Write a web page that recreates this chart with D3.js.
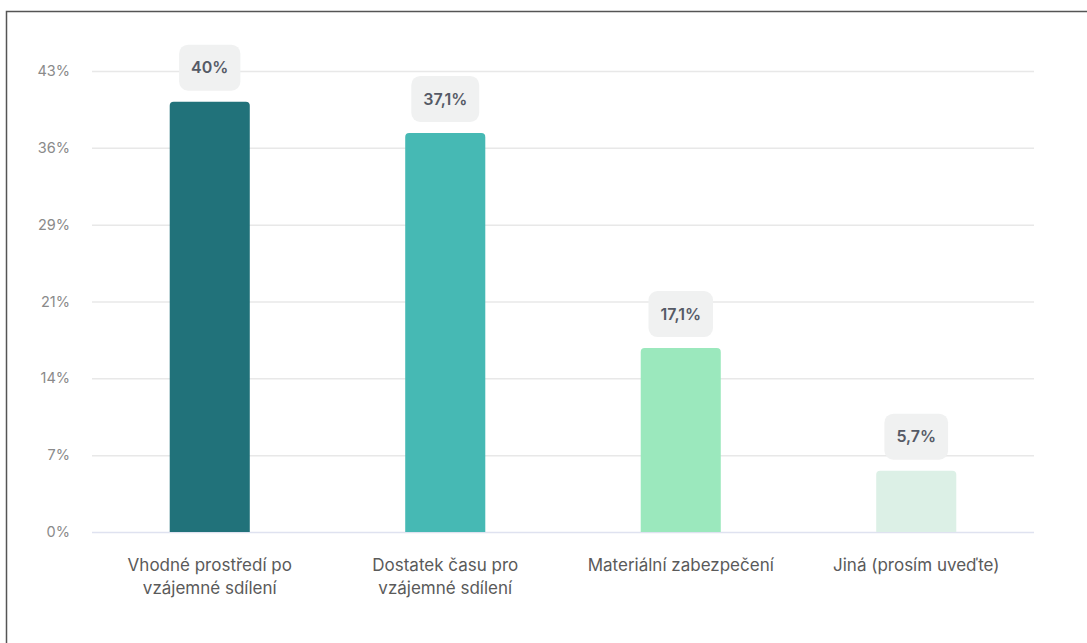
<!DOCTYPE html>
<html><head><meta charset="utf-8">
<script src="https://cdn.jsdelivr.net/npm/d3@7"></script>
<style>html,body{margin:0;padding:0;background:#fff;}svg{display:block;font-family:Inter,"Noto Sans",sans-serif;}</style>
</head><body>
<svg id="c" width="1087" height="643"></svg>
<script>
const categories = [["Vhodné prostředí po","vzájemné sdílení"],["Dostatek času pro","vzájemné sdílení"],["Materiální zabezpečení"],["Jiná (prosím uveďte)"]];
const values = [40, 37.1, 17.1, 5.7];
const valueLabels = ["40%","37,1%","17,1%","5,7%"];
const colors = ["#21727a","#46b9b4","#9be8bd","#dcf0e6"];
const tickValues = [0,1,2,3,4,5,6].map(i => i*50/7);

const svg = d3.select("#c");
svg.append("rect").attr("x",6.5).attr("y",11.5).attr("width",1200).attr("height",800)
  .attr("fill","none").attr("stroke","#555").attr("stroke-width",1.5);

const pLeft=92, pRight=1034, pTop=71, pBottom=532;
const x = d3.scaleBand().domain(d3.range(values.length)).range([pLeft,pRight]).paddingInner(0.66).paddingOuter(0.33);
const y = d3.scaleLinear().domain([0,300/7]).range([pBottom,pTop]);

const yAxis = d3.axisLeft(y).tickValues(tickValues).tickFormat(d=>Math.round(d)+"%").tickSize(-(pRight-pLeft)).tickPadding(22);
const ga = svg.append("g").attr("transform",`translate(${pLeft},0)`).call(yAxis);
ga.select(".domain").remove();
ga.selectAll(".tick line").attr("stroke",d=>d===0?"#dfe2f0":"#e8e8e8").attr("stroke-width",1.5);
ga.selectAll(".tick text").attr("fill","#8a8a8a").attr("font-size",14.5).attr("font-family","Inter");

const bw = x.bandwidth(), r = 4;
svg.selectAll(".bar").data(values).join("path").attr("fill",(d,i)=>colors[i])
  .attr("d",(d,i)=>{
    const x0=x(i), x1=x0+bw, y0=y(d), y1=y(0);
    return `M${x0},${y1}V${y0+r}Q${x0},${y0} ${x0+r},${y0}H${x1-r}Q${x1},${y0} ${x1},${y0+r}V${y1}Z`;
  });

const lg = svg.selectAll(".lbl").data(values).join("g").attr("transform",(d,i)=>`translate(${x(i)+bw/2},${y(d)-34})`);
lg.each(function(d,i){
  const g=d3.select(this);
  const t=g.append("text").attr("text-anchor","middle").attr("dy","0.35em").attr("font-size",16).attr("font-weight",600)
    .attr("fill","#555a66").text(valueLabels[i]);
  const w=t.node().getComputedTextLength()+24;
  g.insert("rect","text").attr("x",-w/2).attr("y",-23).attr("width",w).attr("height",46).attr("rx",9).attr("fill","#f0f1f1");
});

const cg = svg.selectAll(".cat").data(categories).join("text").attr("text-anchor","middle")
  .attr("font-size",17).attr("fill","#5a5a5a")
  .attr("transform",(d,i)=>`translate(${x(i)+bw/2},571)`);
cg.selectAll("tspan").data(d=>d).join("tspan").attr("x",0).attr("dy",(d,j)=>j===0?0:23).text(d=>d);
</script>
</body></html>
